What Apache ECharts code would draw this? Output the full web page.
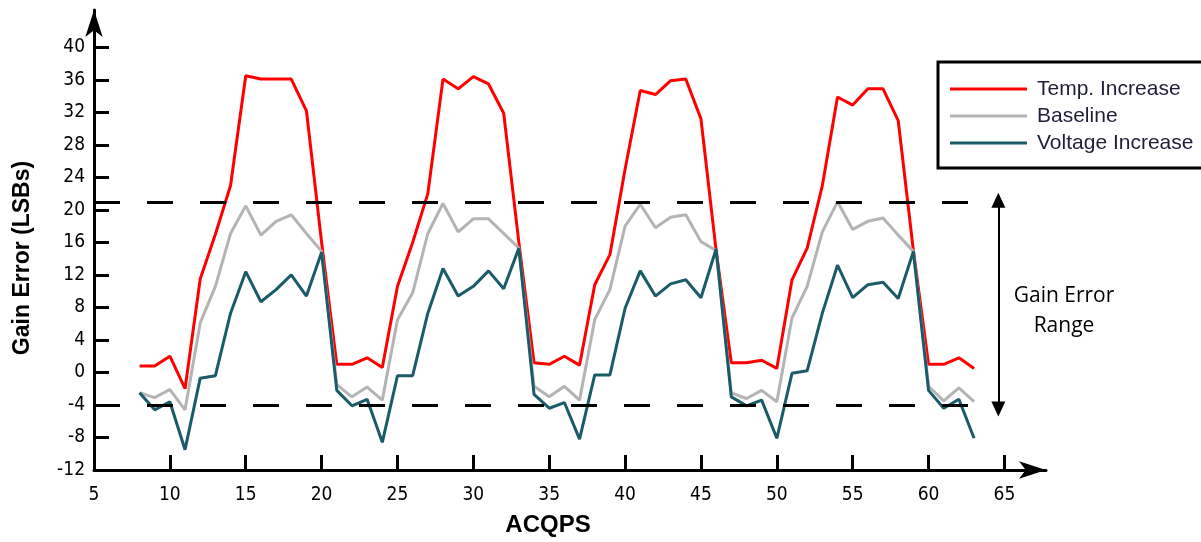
<!DOCTYPE html>
<html>
<head>
<meta charset="utf-8">
<script src="https://cdn.jsdelivr.net/npm/echarts@6/dist/echarts.min.js"></script>
<style>
  html, body { margin: 0; padding: 0; background: #fff; }
  #chart { width: 1201px; height: 542px; }
</style>
</head>
<body>
<div id="chart"></div>
<script>
// ACQPS values on x
const acqps = [8, 9, 10, 11, 12, 13, 14, 15, 16, 17, 18, 19, 20, 21, 22, 23, 24, 25, 26, 27,
  28, 29, 30, 31, 32, 33, 34, 35, 36, 37, 38, 39, 40, 41, 42, 43, 44, 45, 46, 47,
  48, 49, 50, 51, 52, 53, 54, 55, 56, 57, 58, 59, 60, 61, 62, 63];

const tempIncrease = [0.8, 0.8, 2.0, -2.0, 11.5, 17.0, 23.0, 36.5, 36.1, 36.1, 36.1, 32.2, 16.0,
  1.0, 1.0, 1.8, 0.6, 10.6, 16.0, 22.0, 36.1, 34.9, 36.4, 35.5, 31.9, 16.0,
  1.2, 1.0, 2.0, 0.9, 10.8, 14.5, 25.0, 34.7, 34.2, 35.9, 36.1, 31.2, 15.0,
  1.2, 1.2, 1.5, 0.5, 11.4, 15.3, 23.0, 33.9, 32.9, 34.9, 34.9, 31.0, 15.0,
  1.0, 1.0, 1.8, 0.5];

const baseline = [-2.5, -3.1, -2.1, -4.6, 6.1, 10.6, 17.1, 20.5, 16.9, 18.6, 19.4, 17.1, 14.9,
  -1.5, -3.0, -1.8, -3.4, 6.5, 9.8, 17.1, 20.8, 17.3, 18.9, 18.9, 17.1, 15.3,
  -1.7, -3.0, -1.7, -3.4, 6.5, 10.2, 18.0, 20.7, 17.8, 19.1, 19.4, 16.1, 15.0,
  -2.5, -3.2, -2.2, -3.6, 6.7, 10.6, 17.3, 21.0, 17.6, 18.6, 19.0, 16.9, 14.9,
  -1.7, -3.5, -1.9, -3.6];

const voltageIncrease = [-2.5, -4.6, -3.6, -9.5, -0.7, -0.4, 7.3, 12.4, 8.7, 10.2, 12.0, 9.4, 14.8,
  -2.2, -4.1, -3.3, -8.6, -0.4, -0.4, 7.3, 12.8, 9.4, 10.6, 12.5, 10.3, 15.3,
  -2.7, -4.4, -3.7, -8.2, -0.3, -0.3, 7.9, 12.5, 9.4, 10.9, 11.4, 9.2, 15.2,
  -3.0, -4.1, -3.4, -8.1, -0.1, 0.2, 7.3, 13.2, 9.2, 10.8, 11.1, 9.1, 14.9,
  -2.2, -4.4, -3.3, -8.1];

const xLabels = [5, 10, 15, 20, 25, 30, 35, 40, 45, 50, 55, 60, 65];
const xTicks = [10, 15, 20, 25, 30, 35, 40, 45, 50, 55, 60, 65];
const yLabels = [-12, -8, -4, 0, 4, 8, 12, 16, 20, 24, 28, 32, 36, 40];
const yTicks = [-8, -4, 0, 4, 8, 12, 16, 20, 24, 28, 32, 36, 40];

// gain error range band
const rangeTop = 21;
const rangeBottom = -4;
const rangeX = 64.6;
const dashEnd = 62.6;

const pair = arr => acqps.map((x, i) => [x, arr[i]]);

const tickFont = "'DejaVu Sans Condensed', 'Liberation Sans', Arial, sans-serif";
const dash = { color: '#000', width: 3, type: [26, 27], dashOffset: 0 };

let myChart = echarts.init(document.getElementById('chart'));
let option = {
  animation: false,
  grid: { left: 94, right: 155, top: 10, bottom: 72 },
  legend: {
    orient: 'vertical',
    left: 938,
    top: 62,
    padding: [16, 60, 14, 12],
    borderColor: '#000',
    borderWidth: 3,
    itemWidth: 77,
    itemHeight: 3,
    itemGap: 5,
    icon: 'rect',
    textStyle: { fontFamily: 'Liberation Sans, Arial, sans-serif', fontSize: 21, color: '#1e1e38', lineHeight: 22, padding: [0, 0, 0, 5] },
    data: ['Temp. Increase', 'Baseline', 'Voltage Increase']
  },
  xAxis: {
    type: 'value',
    min: 5,
    max: 67.74,
    name: 'ACQPS',
    nameLocation: 'middle',
    nameGap: 43,
    nameTextStyle: { fontFamily: 'Liberation Sans, Arial, sans-serif', fontWeight: 'bold', fontSize: 24, color: '#000', padding: [0, 44, 0, 0] },
    axisLine: { onZero: false, lineStyle: { color: '#000', width: 3 }, symbol: ['none', 'arrow'], symbolSize: [13, 27] },
    axisTick: { inside: true, length: 15, lineStyle: { color: '#000', width: 3 }, customValues: xTicks },
    axisLabel: { customValues: xLabels, margin: 16, fontFamily: tickFont, fontSize: 19, color: '#000' },
    splitLine: { show: false }
  },
  yAxis: {
    type: 'value',
    min: -12,
    max: 44.6,
    name: 'Gain Error (LSBs)',
    nameLocation: 'middle',
    nameGap: 60,
    nameTextStyle: { fontFamily: 'Liberation Sans, Arial, sans-serif', fontWeight: 'bold', fontSize: 23, color: '#000', padding: [0, 36, 0, 0] },
    axisLine: { show: true, onZero: false, lineStyle: { color: '#000', width: 3 }, symbol: ['none', 'arrow'], symbolSize: [13, 27] },
    axisTick: { show: true, inside: true, length: 15, lineStyle: { color: '#000', width: 3 }, customValues: yTicks },
    axisLabel: { customValues: yLabels, margin: 9, fontFamily: tickFont, fontSize: 19, color: '#000' },
    splitLine: { show: false }
  },
  series: [
    {
      name: 'Temp. Increase',
      type: 'line',
      showSymbol: false,
      color: '#ff0000',
      lineStyle: { width: 3, color: '#ff0000' },
      data: pair(tempIncrease),
      markLine: {
        silent: true,
        symbol: 'none',
        label: { show: false },
        data: [
          [{ coord: [dashEnd, rangeTop], lineStyle: dash }, { coord: [5, rangeTop] }],
          [{ coord: [dashEnd, rangeBottom], lineStyle: dash }, { coord: [5, rangeBottom] }],
          [
            { coord: [rangeX, rangeTop + 0.2], symbol: 'triangle', symbolSize: [14, 15], lineStyle: { color: '#000', width: 2, type: 'solid' } },
            { coord: [rangeX, rangeBottom - 0.5], symbol: 'triangle', symbolSize: [14, 15] }
          ]
        ]
      }
    },
    {
      name: 'Baseline',
      type: 'line',
      showSymbol: false,
      color: '#b4b4b4',
      lineStyle: { width: 3, color: '#b4b4b4' },
      data: pair(baseline)
    },
    {
      name: 'Voltage Increase',
      type: 'line',
      showSymbol: false,
      color: '#1a5b69',
      lineStyle: { width: 3, color: '#1a5b69' },
      data: pair(voltageIncrease)
    }
  ],
  graphic: [
    { type: 'text', x: 1064, y: 296, style: { text: 'Gain Error', font: '21px "Open Sans", sans-serif', fill: '#000', textAlign: 'center', textVerticalAlign: 'middle' } },
    { type: 'text', x: 1064, y: 326, style: { text: 'Range', font: '21px "Open Sans", sans-serif', fill: '#000', textAlign: 'center', textVerticalAlign: 'middle' } }
  ]
};
myChart.setOption(option);
</script>
</body>
</html>
